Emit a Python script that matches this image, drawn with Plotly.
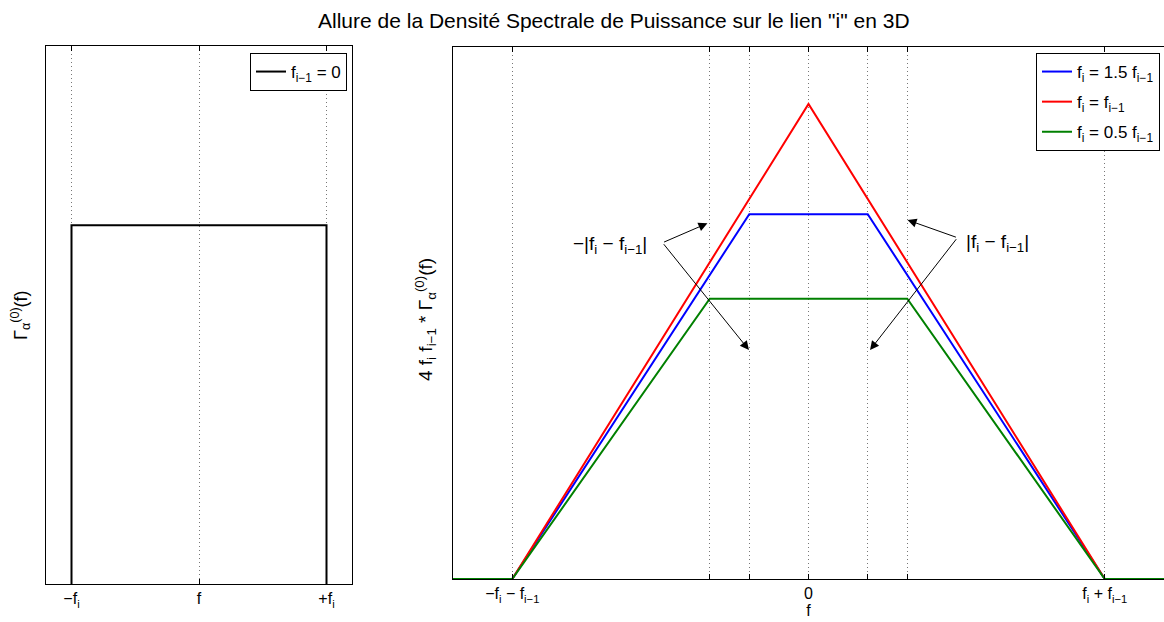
import plotly.graph_objects as go

W, H = 1164, 622

# ---- data ----
# left panel: rectangle spectrum between -f_i and +f_i
rect_x = [-1, -1, 1, 1]
rect_y = [0, 1, 1, 0]

# right panel: x normalised by (f_i + f_{i-1}); y normalised to red peak
x_full = [-1.2, -1.0, 0.0, 0.0, 1.0, 1.2]
x_blue = [-1.2, -1.0, -0.2, 0.2, 1.0, 1.2]
x_green = [-1.2, -1.0, -1/3, 1/3, 1.0, 1.2]
y_red = [0, 0, 1.0, 1.0, 0, 0]
y_blue = [0, 0, 0.768, 0.768, 0, 0]
y_green = [0, 0, 0.59, 0.59, 0, 0]

left_tickvals = [-1, 0, 1]
left_ticktext = ["\u2212f<sub>i</sub>", "f", "+f<sub>i</sub>"]
right_tickvals = [-1, -1/3, -0.2, 0, 0.2, 1/3, 1]
right_ticktext = ["\u2212f<sub>i</sub> \u2212 f<sub>i\u22121</sub>", "", "", "0", "", "",
                  "f<sub>i</sub> + f<sub>i\u22121</sub>"]

names = ["f<sub>i</sub> = 1.5 f<sub>i\u22121</sub>",
         "f<sub>i</sub> = f<sub>i\u22121</sub>",
         "f<sub>i</sub> = 0.5 f<sub>i\u22121</sub>"]
colors = ["#0000ff", "#ff0000", "#008000"]

FONT = "Liberation Sans, Arial, Helvetica, sans-serif"
FS = 16
LFS = 17

fig = go.Figure()
fig.add_trace(go.Scatter(x=rect_x, y=rect_y, mode="lines",
                         line=dict(color="black", width=2),
                         name="f<sub>i\u22121</sub> = 0",
                         xaxis="x", yaxis="y", legend="legend"))
for i, (xs, ys, nm, c) in enumerate(zip([x_blue, x_full, x_green], [y_blue, y_red, y_green],
                                        names, colors)):
    fig.add_trace(go.Scatter(x=xs, y=ys, mode="lines", line=dict(color=c, width=2),
                             name=nm, xaxis="x2", yaxis="y2", legend="legend2",
                             legendgroup="g%d" % i))

def px_x(p):
    return p / W

def px_y(p):
    return 1 - p / H

axis_common = dict(showline=True, linecolor="black", linewidth=1, mirror="ticks",
                   ticklen=5, tickcolor="black", zeroline=False,
                   tickfont=dict(family=FONT, size=FS, color="black"))
grid = dict(showgrid=True, gridcolor="#777777", griddash="1px,3px", gridwidth=1)

fig.update_layout(
    width=W, height=H,
    margin=dict(l=0, r=0, t=0, b=0),
    paper_bgcolor="white", plot_bgcolor="white",
    font=dict(family=FONT, size=FS, color="black"),
    xaxis=dict(domain=[px_x(46), px_x(352)], range=[-1.2, 1.2], anchor="y",
               tickmode="array", tickvals=left_tickvals, ticktext=left_ticktext,
               ticks="inside", **grid, **axis_common),
    yaxis=dict(domain=[px_y(584), px_y(46)], range=[0, 1.5], anchor="x",
               showticklabels=False, showgrid=False, ticks="", **axis_common),
    xaxis2=dict(domain=[px_x(453), 1.0], range=[-1.2, 1.2], anchor="y2",
                tickmode="array", tickvals=right_tickvals, ticktext=right_ticktext,
                ticks="inside", **grid,
                title=dict(text="f", standoff=0, font=dict(size=FS)),
                **axis_common),
    yaxis2=dict(domain=[px_y(579), px_y(47)], range=[0, 1.12], anchor="x2",
                showticklabels=False, showgrid=False, ticks="", **axis_common),
    legend=dict(x=px_x(347), y=px_y(53), xanchor="right", yanchor="top",
                bgcolor="white", bordercolor="black", borderwidth=1,
                font=dict(family=FONT, size=LFS), tracegroupgap=0),
    legend2=dict(x=px_x(1160), y=px_y(53), xanchor="right", yanchor="top",
                 bgcolor="white", bordercolor="black", borderwidth=1,
                 font=dict(family=FONT, size=LFS), tracegroupgap=5),
    showlegend=True,
)

ann = []
ann.append(dict(text="Allure de la Densit\u00e9 Spectrale de Puissance sur le lien \"i\" en 3D",
                x=px_x(613.5), y=px_y(20), xref="paper", yref="paper",
                showarrow=False, font=dict(size=21), xanchor="center", yanchor="middle"))
ann.append(dict(text="\u0393<sub>\u03b1</sub><sup>(0)</sup>(f)", textangle=-90,
                x=px_x(20), y=px_y(315), xref="paper", yref="paper",
                showarrow=False, font=dict(size=18), xanchor="center", yanchor="middle"))
ann.append(dict(text="4 f<sub>i</sub> f<sub>i\u22121</sub> * \u0393<sub>\u03b1</sub><sup>(0)</sup>(f)",
                textangle=-90, x=px_x(425), y=px_y(320), xref="paper", yref="paper",
                showarrow=False, font=dict(size=19), xanchor="center", yanchor="middle"))

def dx(p):
    return (p - 809) / 297.0

def dy(p):
    return (579 - p) / 532.0 * 1.12

arrows = [((662.7, 242.7), (707.7, 223.3)), ((662.7, 242.7), (749.3, 350)),
          ((958.3, 237.7), (908.3, 220)), ((958.3, 237.7), (870.7, 350))]
for (tx, ty), (hx, hy) in arrows:
    ann.append(dict(x=dx(hx), y=dy(hy), ax=dx(tx), ay=dy(ty), xref="x2", yref="y2",
                    axref="x2", ayref="y2", text="", showarrow=True,
                    arrowhead=2, arrowsize=1.8, arrowwidth=1, arrowcolor="black"))
ann.append(dict(text="\u2212|f<sub>i</sub> \u2212 f<sub>i\u22121</sub>|", x=dx(610), y=dy(245),
                xref="x2", yref="y2", showarrow=False, font=dict(size=19)))
ann.append(dict(text="|f<sub>i</sub> \u2212 f<sub>i\u22121</sub>|", x=dx(998), y=dy(243),
                xref="x2", yref="y2", showarrow=False, font=dict(size=19)))
fig.update_layout(annotations=ann)

fig.write_html("out.html", config={"displayModeBar": False},
               post_script="document.body.style.margin='0';document.body.style.padding='0';")
